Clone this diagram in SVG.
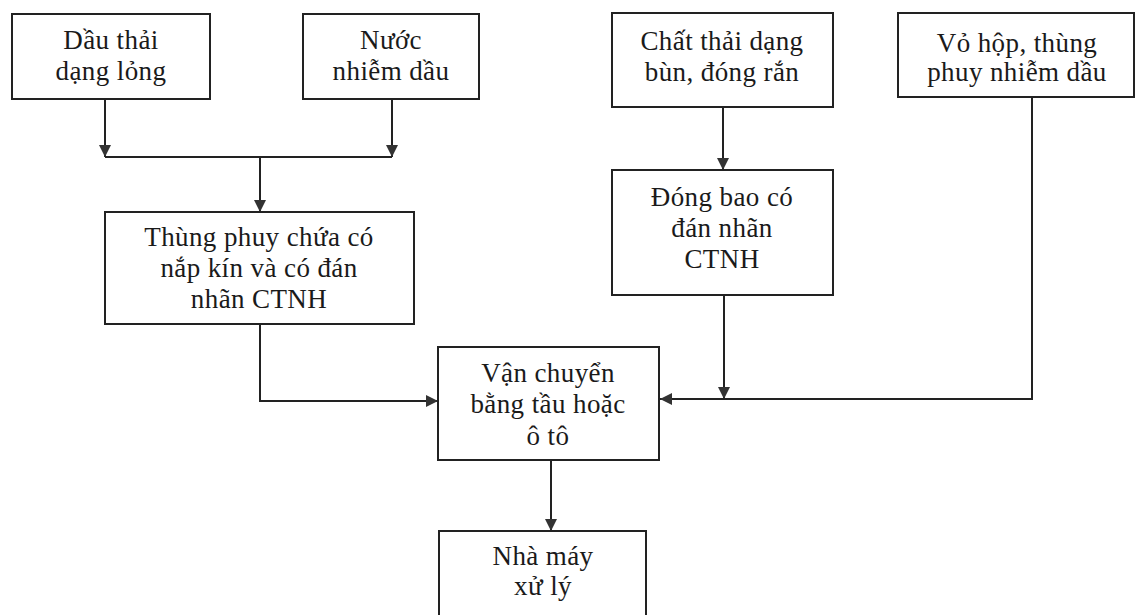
<svg xmlns="http://www.w3.org/2000/svg" width="1136" height="615" viewBox="0 0 1136 615">
<defs>
<style>
.box{fill:#fff;stroke:#222;stroke-width:2}
.t{font-family:"Liberation Serif","DejaVu Serif",serif;font-size:27px;fill:#1a1a1a;text-anchor:middle;letter-spacing:0.4px}
.c{fill:none;stroke:#222;stroke-width:2}
</style>
<marker id="ah" markerUnits="userSpaceOnUse" markerWidth="13" markerHeight="12" refX="12" refY="6" orient="auto">
<path d="M0,0 L12,6 L0,12 z" fill="#333"/>
</marker>
</defs>
<rect width="1136" height="615" fill="#fff"/>
<g id="connectors">
<path class="c" d="M105 99 V157" marker-end="url(#ah)"/>
<path class="c" d="M392 99 V157" marker-end="url(#ah)"/>
<path class="c" d="M105 157 H392"/>
<path class="c" d="M260 157 V212" marker-end="url(#ah)"/>
<path class="c" d="M260 324 V401 H438" marker-end="url(#ah)"/>
<path class="c" d="M723 107 V170" marker-end="url(#ah)"/>
<path class="c" d="M724 295 V399" marker-end="url(#ah)"/>
<path class="c" d="M1032 97 V399 H660" marker-end="url(#ah)"/>
<path class="c" d="M551 460 V531" marker-end="url(#ah)"/>
</g>
<g id="dau-thai">
<rect class="box" x="12" y="14" width="198" height="85"/>
<text class="t" x="111" y="49">Dầu thải</text>
<text class="t" x="111" y="80">dạng lỏng</text>
</g>
<g id="nuoc-nhiem-dau">
<rect class="box" x="303" y="14" width="176" height="85"/>
<text class="t" x="391" y="49">Nước</text>
<text class="t" x="391" y="80">nhiễm dầu</text>
</g>
<g id="chat-thai">
<rect class="box" x="612" y="13" width="221" height="94"/>
<text class="t" x="722" y="50">Chất thải dạng</text>
<text class="t" x="722" y="81">bùn, đóng rắn</text>
</g>
<g id="vo-hop">
<rect class="box" x="898" y="13" width="236" height="84"/>
<text class="t" x="1017" y="52">Vỏ hộp, thùng</text>
<text class="t" x="1017" y="81">phuy nhiễm dầu</text>
</g>
<g id="thung-phuy">
<rect class="box" x="105" y="212" width="309" height="112"/>
<text class="t" x="259" y="246">Thùng phuy chứa có</text>
<text class="t" x="259" y="277">nắp kín và có đán</text>
<text class="t" x="259" y="308">nhãn CTNH</text>
</g>
<g id="dong-bao">
<rect class="box" x="612" y="170" width="221" height="125"/>
<text class="t" x="722" y="206">Đóng bao có</text>
<text class="t" x="722" y="237">đán nhãn</text>
<text class="t" x="722" y="268">CTNH</text>
</g>
<g id="van-chuyen">
<rect class="box" x="438" y="347" width="221" height="113"/>
<text class="t" x="548" y="382">Vận chuyển</text>
<text class="t" x="548" y="413">bằng tầu hoặc</text>
<text class="t" x="548" y="445">ô tô</text>
</g>
<g id="nha-may">
<rect class="box" x="439" y="531" width="207" height="100"/>
<text class="t" x="543" y="565">Nhà máy</text>
<text class="t" x="543" y="595">xử lý</text>
</g>
</svg>
